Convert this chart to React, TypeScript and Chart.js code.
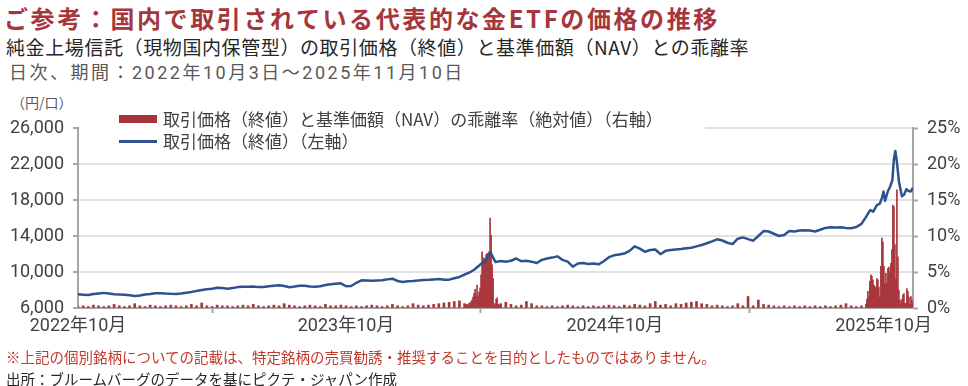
import React, { useEffect, useRef } from 'react';
import { Chart, registerables } from 'chart.js';

Chart.register(...registerables);

// x axis: calendar days counted from 2022-10-03 (day 0) to 2025-11-10 (day 1134)
const X_MAX_DAY = 1134;
const xTickDays = [0, 364, 729, 1094];
const xTickLabels = ['2022年10月', '2023年10月', '2024年10月', '2025年10月'];

const leftTicks = [6000, 10000, 14000, 18000, 22000, 26000];
const rightTicks = [0, 5, 10, 15, 20, 25];

// 取引価格（終値）, weekly (every Monday from 2022-10-03), 円/口
const priceWeekly = [
  7520, 7480, 7450, 7550, 7620, 7680, 7600, 7520, 7500, 7480,
  7420, 7340, 7400, 7500, 7560, 7650, 7650, 7600, 7570, 7560,
  7620, 7700, 7780, 7900, 8000, 8080, 8150, 8260, 8220, 8150,
  8220, 8320, 8370, 8350, 8380, 8320, 8340, 8420, 8480, 8520,
  8450, 8310, 8380, 8480, 8460, 8400, 8370, 8420, 8550, 8640,
  8700, 8740, 8420, 8450, 8800, 9080, 9050, 9030, 9060, 9080,
  9180, 9260, 9000, 8900, 8970, 9000, 9050, 9100, 9130, 9180,
  9220, 9130, 9150, 9300, 9450, 9720, 9950, 10300, 10800, 11250,
  12200, 11100, 11220, 11150, 11250, 11500, 11200, 11250, 11150, 11000,
  11350, 11500, 11600, 11740, 11350, 11150, 10600, 10950, 11000, 10900,
  10950, 10850, 11200, 11650, 11850, 11950, 12050, 12350, 12850, 12600,
  12250, 12450, 12500, 11980, 12350, 12450, 12500, 12550, 12630, 12700,
  12850, 13000, 13190, 13400, 13630, 13500, 13250, 13100, 13700, 13850,
  13650, 13480, 14000, 14550, 14500, 14250, 14000, 14100, 14550, 14500,
  14600, 14650, 14600, 14500, 14700, 14900, 14960, 14950, 14960, 14900,
  14870, 15000, 15350,
];

// 取引価格（終値）, last weeks at finer resolution (day offsets)
const priceLateDays = [1070, 1076, 1080, 1085, 1089, 1092, 1094, 1096, 1100, 1103, 1106, 1108, 1110, 1112, 1115, 1117, 1119, 1122, 1125, 1128, 1131, 1134];
const priceLate = [16100, 16890, 16700, 17440, 17600, 18300, 18930, 17900, 19000, 19500, 20200, 22500, 23440, 22300, 20000, 19200, 18400, 18600, 19200, 19000, 18950, 19370];

// 乖離率（絶対値）%, weekly baseline (0 where the daily spike series below apply)
const deviationWeekly = [
  0.2, 0.3, 0.2, 0.4, 0.3, 0.2, 0.3, 0.5, 0.3, 0.2,
  0.3, 0.6, 0.3, 0.2, 0.4, 0.3, 0.2, 0.3, 0.4, 0.3,
  0.2, 0.3, 0.5, 0.3, 0.7, 0.3, 0.2, 0.4, 0.3, 0.3,
  0.2, 0.3, 0.4, 0.3, 0.5, 0.3, 0.2, 0.3, 0.4, 0.3,
  0.6, 0.4, 0.3, 0.2, 0.3, 0.4, 0.3, 0.2, 0.5, 0.3,
  0.3, 0.4, 0.3, 0.2, 0.3, 0.2, 0.3, 0.4, 0.3, 0.2,
  0.3, 0.5, 0.3, 0.2, 0.3, 0.6, 0.4, 0.3, 0.4, 0.5,
  0.6, 0.7, 0.8, 0.9, 1.0, 0.6, 0, 0, 0, 0,
  0, 0, 0.6, 0.8, 0.5, 0.3, 0.4, 0.9, 0.6, 0.3,
  0.3, 0.2, 0.3, 0.2, 0.3, 0.4, 0.3, 0.2, 0.3, 0.2,
  0.3, 0.2, 0.3, 0.4, 0.3, 0.2, 0.4, 0.3, 0.5, 0.4,
  0.3, 0.6, 0.9, 0.4, 0.5, 0.3, 0.6, 0.5, 0.7, 0.8,
  0.9, 0.6, 0.5, 0.3, 0.4, 0.3, 0.2, 0.3, 0.6, 0.3,
  1.6, 0.3, 1.1, 0.5, 0.4, 0.3, 0.2, 0.3, 0.2, 0.3,
  0.2, 0.3, 0.2, 0.3, 0.2, 0.3, 0.2, 0.3, 0.4, 0.6,
  0.3, 0.2, 0.3, 0, 0, 0, 0, 0, 0, 0,
  0, 0, 0,
];

// 乖離率（絶対値）%, daily around the two spikes (one value per trading day)
const TRADING_DAY = 1.36;
const spikeAprStartDay = 527;
const spikeAprValues = [
  0.3, 0.5, 0.4, 0.7, 0.6, 0.9, 1.1, 1.5, 2.0, 2.6,
  1.8, 3.2, 1.6, 2.2, 2.8, 4.6, 7.8, 7.0, 6.4, 6.9,
  7.4, 7.6, 7.0, 7.8, 12.5, 10.1, 6.0, 4.1, 0.6, 0.4,
  1.2, 1.4, 0.5, 0.3,
];
const spikeOctStartDay = 1070;
const spikeOctValues = [
  0.5, 1.2, 2.3, 1.6, 3.7, 4.6, 4.4, 3.9, 3.2, 3.0,
  2.7, 4.1, 3.9, 2.9, 1.5, 5.8, 9.7, 9.2, 5.8, 3.4,
  4.8, 3.4, 5.5, 5.7, 5.0, 6.2, 8.1, 14.3, 14.1, 8.8,
  4.0, 16.4, 7.1, 2.5, 1.1, 0.6, 1.2, 1.8, 2.0, 0.7,
  0.6, 2.7, 2.3, 1.5, 0.5, 1.6, 1.1, 0.6,
];

const LEGEND_BAR = '取引価格（終値）と基準価額（NAV）の乖離率（絶対値）（右軸）';
const LEGEND_LINE = '取引価格（終値）（左軸）';

const BAR_COLOR = '#a8343b';
const LINE_COLOR = '#2f528f';
const AXIS_COLOR = '#a6a6a6';
const GRID_COLOR = '#e2e2e2';
const TEXT_COLOR = '#404040';
const CJK = "'Noto Sans CJK JP', sans-serif";
const TICK_FONT = "Roboto, 'Noto Sans CJK JP', sans-serif";

export default function App() {
  const canvasRef = useRef<HTMLCanvasElement | null>(null);

  useEffect(() => {
    document.body.style.margin = '0';
    const canvas = canvasRef.current;
    if (!canvas) return;

    const priceData = priceWeekly
      .map((v, i) => ({ x: i * 7, y: v }))
      .concat(priceLateDays.map((d, i) => ({ x: d, y: priceLate[i] })));
    const baseBars = deviationWeekly
      .map((v, i) => ({ x: i * 7, y: v }))
      .filter((p) => p.y > 0);
    const spikeBars = spikeAprValues
      .map((v, i) => ({ x: spikeAprStartDay + i * TRADING_DAY, y: v }))
      .concat(spikeOctValues.map((v, i) => ({ x: spikeOctStartDay + i * TRADING_DAY, y: v })));

    const tickFont = { family: TICK_FONT, size: 18 };

    const chart = new Chart(canvas, {
      type: 'bar',
      data: {
        datasets: [
          {
            type: 'line',
            label: LEGEND_LINE,
            data: priceData,
            yAxisID: 'y',
            borderColor: LINE_COLOR,
            borderWidth: 2.5,
            pointRadius: 0,
            tension: 0,
            borderJoinStyle: 'round',
            order: 0,
          } as any,
          {
            type: 'bar',
            label: LEGEND_BAR,
            data: baseBars,
            yAxisID: 'y1',
            backgroundColor: BAR_COLOR,
            barThickness: 2,
            grouped: false,
            order: 1,
          } as any,
          {
            type: 'bar',
            label: LEGEND_BAR,
            data: spikeBars,
            yAxisID: 'y1',
            backgroundColor: BAR_COLOR,
            barThickness: 1,
            grouped: false,
            order: 1,
          } as any,
        ],
      },
      options: {
        animation: false,
        responsive: false,
        layout: { padding: { top: 40, left: 0, right: 0, bottom: 0 } },
        plugins: { legend: { display: false }, tooltip: { enabled: false } },
        scales: {
          x: {
            type: 'linear',
            min: 0,
            max: X_MAX_DAY,
            offset: false,
            afterBuildTicks: (s: any) => {
              s.ticks = xTickDays.map((v) => ({ value: v }));
            },
            afterFit: (s: any) => {
              s.height = 40;
            },
            ticks: {
              autoSkip: false,
              maxRotation: 0,
              padding: 3,
              font: tickFont,
              color: TEXT_COLOR,
              callback: (v: any) => {
                const i = xTickDays.indexOf(Number(v));
                return i >= 0 ? xTickLabels[i] : '';
              },
            },
            grid: { drawOnChartArea: false, tickLength: 5, tickColor: AXIS_COLOR, tickWidth: 2 },
            border: { color: AXIS_COLOR, width: 2 },
          },
          y: {
            position: 'left',
            min: leftTicks[0],
            max: leftTicks[leftTicks.length - 1],
            afterBuildTicks: (s: any) => {
              s.ticks = leftTicks.map((v) => ({ value: v }));
            },
            afterFit: (s: any) => {
              s.width = 78;
            },
            ticks: {
              padding: 9,
              font: tickFont,
              color: TEXT_COLOR,
              callback: (v: any) => Number(v).toLocaleString('en-US'),
            },
            grid: { color: GRID_COLOR, lineWidth: 2, tickLength: 5, tickColor: AXIS_COLOR, tickWidth: 2 },
            border: { color: AXIS_COLOR, width: 2 },
          },
          y1: {
            position: 'right',
            min: rightTicks[0],
            max: rightTicks[rightTicks.length - 1],
            afterBuildTicks: (s: any) => {
              s.ticks = rightTicks.map((v) => ({ value: v }));
            },
            afterFit: (s: any) => {
              s.width = 55;
            },
            ticks: {
              padding: 9,
              font: tickFont,
              color: TEXT_COLOR,
              callback: (v: any) => `${v}%`,
            },
            grid: { drawOnChartArea: false, tickLength: 5, tickColor: AXIS_COLOR, tickWidth: 2 },
            border: { color: AXIS_COLOR, width: 2 },
          },
        },
      } as any,
    });

    return () => chart.destroy();
  }, []);

  const abs = (s: React.CSSProperties): React.CSSProperties => ({ position: 'absolute', whiteSpace: 'nowrap', ...s });

  return (
    <div style={{ position: 'relative', width: 968, height: 386, background: '#fff', overflow: 'hidden', fontFamily: CJK }}>
      <div style={abs({ left: 4, top: 3, fontSize: 24, lineHeight: '30px', fontWeight: 700, color: '#a5373c', letterSpacing: 2.6 })}>
        ご参考：国内で取引されている代表的な金ETFの価格の推移
      </div>
      <div style={abs({ left: 6, top: 34, fontSize: 19, lineHeight: '26px', color: '#262626', letterSpacing: 0.6 })}>
        純金上場信託（現物国内保管型）の取引価格（終値）と基準価額（NAV）との乖離率
      </div>
      <div style={abs({ left: 9, top: 60, fontSize: 18, lineHeight: '26px', color: '#595959', letterSpacing: 2.5, fontFamily: TICK_FONT })}>
        日次、期間：2022年10月3日～2025年11月10日
      </div>
      <div style={abs({ left: 11, top: 92, fontSize: 14, lineHeight: '20px', color: '#595959' })}>（円/口）</div>

      <div style={{ position: 'absolute', left: 0, top: 88, width: 968, height: 260 }}>
        <canvas ref={canvasRef} width={968} height={260} style={{ display: 'block' }} />
      </div>

      <div style={abs({ left: 80, top: 105, width: 625, height: 46, background: '#fff' })}>
        <div style={abs({ left: 39, top: 10, width: 38, height: 8, background: BAR_COLOR })} />
        <div style={abs({ left: 83, top: 2, fontSize: 17, lineHeight: '24px', color: TEXT_COLOR })}>{LEGEND_BAR}</div>
        <div style={abs({ left: 39, top: 35, width: 38, height: 2.5, background: LINE_COLOR })} />
        <div style={abs({ left: 83, top: 24, fontSize: 17, lineHeight: '24px', color: TEXT_COLOR })}>{LEGEND_LINE}</div>
      </div>

      <div style={abs({ left: 6, top: 347, fontSize: 14.5, lineHeight: '20px', color: '#c0392b' })}>
        ※上記の個別銘柄についての記載は、特定銘柄の売買勧誘・推奨することを目的としたものではありません。
      </div>
      <div style={abs({ left: 6, top: 369, fontSize: 14.5, lineHeight: '20px', color: '#262626' })}>
        出所：ブルームバーグのデータを基にピクテ・ジャパン作成
      </div>
    </div>
  );
}
